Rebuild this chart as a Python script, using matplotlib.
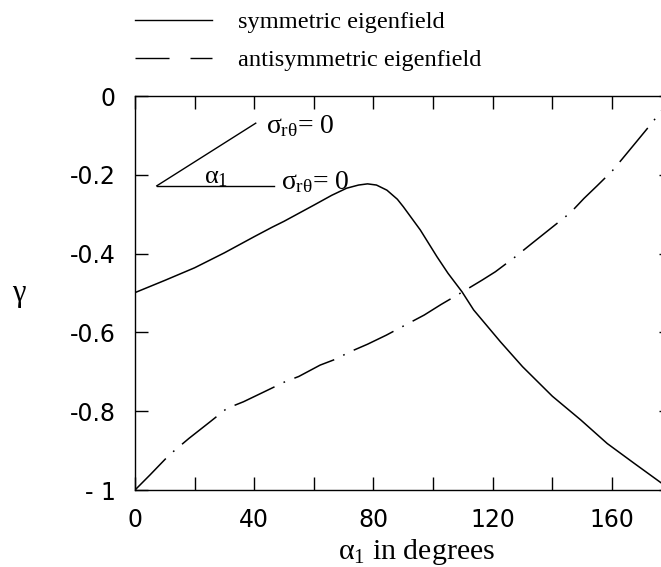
import numpy as np
import matplotlib
matplotlib.use("Agg")
import matplotlib.pyplot as plt
from matplotlib.lines import Line2D
from matplotlib.ticker import MultipleLocator

# ---- data ----
sym_x = [0, 10, 20, 30, 40, 46, 50, 60, 66, 71, 75, 78, 81, 84.5, 88, 90,
         95.7, 101.3, 105, 109.7, 113.6, 122.6, 130, 140, 149.5, 158.4, 167.4, 176.7, 180]
sym_y = [-0.499, -0.468, -0.436, -0.398, -0.357, -0.333, -0.318, -0.277, -0.252,
         -0.234, -0.226, -0.223, -0.226, -0.239, -0.262, -0.281, -0.340, -0.408,
         -0.450, -0.497, -0.543, -0.624, -0.687, -0.762, -0.822, -0.882, -0.932, -0.983, -1.0]

anti_x = [0, 5, 11.5, 18.1, 25, 30.8, 36.4, 43, 50.4, 54.9, 62.1, 66.6, 72.8, 78,
          84.3, 91, 97, 102.7, 109.7, 116.5, 120.9, 127.6, 133, 138.8, 146.1, 150.6,
          155, 160.1, 163.3, 168, 173, 180]
anti_y = [-1.0, -0.962, -0.911, -0.869, -0.828, -0.793, -0.776, -0.752, -0.725, -0.712,
          -0.683, -0.670, -0.647, -0.630, -0.607, -0.580, -0.556, -0.529, -0.498, -0.467,
          -0.446, -0.408, -0.375, -0.340, -0.296, -0.260, -0.228, -0.190, -0.161, -0.118,
          -0.072, -0.005]

labels = ["symmetric eigenfield", "antisymmetric eigenfield"]
x_major = [0, 40, 80, 120, 160]
x_labels = ["0", "40", "80", "120", "160"]
y_major = [0, -0.2, -0.4, -0.6, -0.8, -1.0]
y_labels = ["0", "-0.2", "-0.4", "-0.6", "-0.8", "- 1"]

serif = 'Liberation Serif'
plt.rcParams['font.family'] = ['DejaVu Sans']
plt.rcParams['mathtext.fontset'] = 'custom'
plt.rcParams['mathtext.rm'] = serif
plt.rcParams['mathtext.it'] = serif
plt.rcParams['mathtext.bf'] = serif + ':bold'
plt.rcParams['lines.scale_dashes'] = False

W, H = 661, 567
fig = plt.figure(figsize=(W / 100, H / 100), dpi=100)
L, R, T, B = 135, 671.6, 96, 490
ax = fig.add_axes([L / W, 1 - B / H, (R - L) / W, (B - T) / H])

ax.plot(sym_x, sym_y, color='black', lw=1.1, solid_capstyle='butt')
ax.plot(anti_x, anti_y, color='black', lw=1.1, dashes=(31.7, 7.2, 1.2, 7.2))

ax.set_xlim(0, 180)
ax.set_ylim(-1.0, 0.0)
ax.set_xticks(x_major)
ax.set_xticklabels(x_labels)
ax.xaxis.set_minor_locator(MultipleLocator(20))
ax.set_yticks(y_major)
ax.set_yticklabels(y_labels)
ax.tick_params(which='both', direction='in', length=9.5, width=1.0,
               top=True, right=True, labelsize=17)
ax.tick_params(axis='x', which='both', pad=13)
ax.tick_params(axis='y', which='both', pad=14)
for s in ax.spines.values():
    s.set_linewidth(1.0)

ax.set_xlabel(r'$\alpha_1$ in degrees', family=serif, fontsize=21.5)
ax.xaxis.label.set_va('bottom')
ax.xaxis.set_label_coords((417 - L) / (R - L), -(567 - B) / (B - T))
ax.set_ylabel('γ', family=serif, fontsize=22, rotation=0, ha='center', va='center')
ax.yaxis.set_label_coords(-(L - 19) / (R - L), (B - 294) / (B - T))

# inset sketch of the wedge
ax.plot([7.3, 40.5], [-0.228, -0.069], color='black', lw=1.0)
ax.plot([7.3, 46.6], [-0.228, -0.228], color='black', lw=1.0)
ax.text(27.2, -0.205, r'$\alpha_1$', fontsize=19, ha='center', va='center')
ax.text(44.0, -0.076, r'$\sigma_{r\theta}$= 0', fontsize=20, ha='left',
        va='center', family=serif)
ax.text(49.0, -0.218, r'$\sigma_{r\theta}$= 0', fontsize=20, ha='left',
        va='center', family=serif)

handles = [Line2D([], [], color='black', lw=1.0),
           Line2D([], [], color='black', lw=1.0, dashes=(24.5, 15.1))]
fig.legend(handles, labels, loc='upper left', bbox_to_anchor=(L / W, 1 - 11 / H),
           frameon=False, prop={'family': serif, 'size': 17.6}, handlelength=3.15,
           handletextpad=1.05, labelspacing=0.65, borderpad=0, borderaxespad=0)

fig.savefig('out.png', dpi=100)
